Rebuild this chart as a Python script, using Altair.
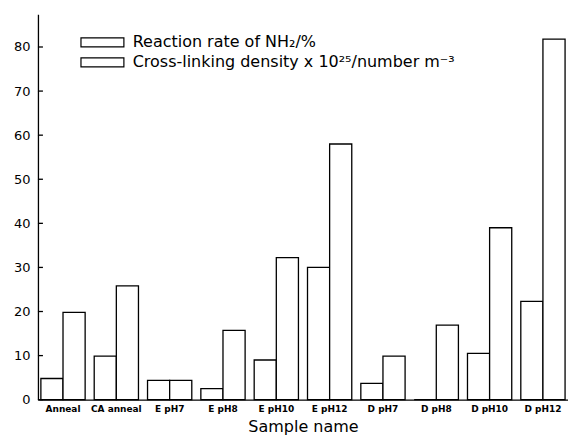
import altair as alt
import pandas as pd

categories = ["Anneal", "CA anneal", "E pH7", "E pH8", "E pH10", "E pH12",
              "D pH7", "D pH8", "D pH10", "D pH12"]
reaction = [4.8, 9.9, 4.4, 2.5, 9.0, 30.0, 3.7, 0.0, 10.5, 22.3]
crosslink = [19.8, 25.8, 4.4, 15.7, 32.2, 58.0, 9.9, 16.9, 39.0, 81.8]
series = ["Reaction rate of NH\u2082/%",
          "Cross-linking density x 10\u00b2\u2075/number m\u207b\u00b3"]
y_ticks = [0, 10, 20, 30, 40, 50, 60, 70, 80]

rows = []
for c, a, b in zip(categories, reaction, crosslink):
    rows.append({"sample": c, "series": series[0], "value": a})
    rows.append({"sample": c, "series": series[1], "value": b})
df = pd.DataFrame(rows)
ticks_df = pd.DataFrame({"v": y_ticks})

FONT = "DejaVu Sans"

bars = alt.Chart(df).mark_bar(stroke="black", strokeWidth=1.3, opacity=1).encode(
    x=alt.X("sample:N", sort=categories,
            scale=alt.Scale(paddingInner=0.17, paddingOuter=0.055),
            axis=alt.Axis(title="Sample name", labelAngle=0, ticks=False,
                          labelFont=FONT, labelFontSize=9, labelFontWeight="bold",
                          labelColor="black", labelPadding=5,
                          titleFont=FONT, titleFontSize=16, titleFontWeight="normal",
                          titleColor="black", titlePadding=5,
                          domainColor="black", domainWidth=1.3)),
    xOffset=alt.XOffset("series:N", sort=series),
    y=alt.Y("value:Q", scale=alt.Scale(domain=[0, 87.4], nice=False),
            axis=alt.Axis(title=None, values=y_ticks, tickSize=0, grid=False,
                          labelFont=FONT, labelFontSize=13, labelColor="black",
                          labelPadding=8, domainColor="black", domainWidth=1.3)),
    fill=alt.Fill("series:N",
                  scale=alt.Scale(domain=series, range=["white", "white"]),
                  legend=alt.Legend(title=None, orient="none", legendX=56.6, legendY=20,
                                    symbolType="M-3,-0.63H3V0.63H-3Z", symbolSize=205.4,
                                    symbolStrokeColor="black", symbolStrokeWidth=1.2,
                                    symbolFillColor="white",
                                    labelFont=FONT, labelFontSize=16, labelColor="black",
                                    labelOffset=22.3, rowPadding=4, labelLimit=600)),
)

tick_marks = alt.Chart(ticks_df).mark_rule(color="black", strokeWidth=1.3).encode(
    y=alt.Y("v:Q"),
    x=alt.value(0),
    x2=alt.value(5),
)

chart = alt.layer(bars, tick_marks).properties(
    width=531, height=386,
    background="white",
    padding={"left": 5, "top": 6, "right": 0, "bottom": 0},
).configure_view(strokeWidth=0, stroke="transparent").configure_axis(grid=False)

chart.save("out.html", embed_options={"renderer": "svg", "actions": False})
